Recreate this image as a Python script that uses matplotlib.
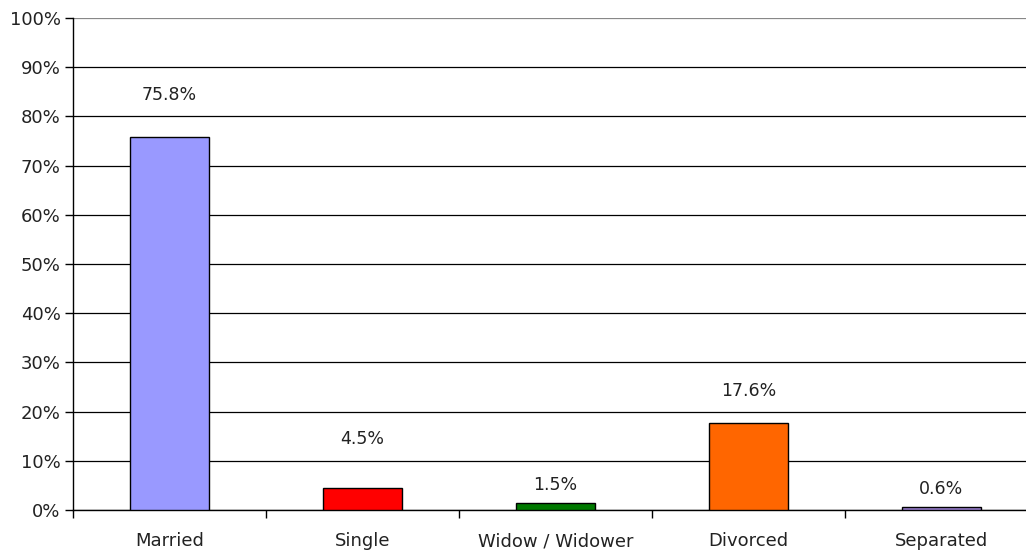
import matplotlib.pyplot as plt
from matplotlib.ticker import FixedLocator, PercentFormatter

categories = ["Married", "Single", "Widow / Widower", "Divorced", "Separated"]
shares = [75.8, 4.5, 1.5, 17.6, 0.6]
bar_colors = ["#9999FF", "#FF0000", "#007A00", "#FF6600", "#9B80D2"]
# label offsets above each bar, in points
label_offsets = [30, 35, 13, 23, 13]

plt.rcParams["font.family"] = ["DejaVu Sans"]

fig = plt.figure(figsize=(10.26, 5.53), dpi=100)
ax = fig.add_axes([73 / 1026, 43 / 553, 965 / 1026, 492 / 553])

x = list(range(len(categories)))
ax.bar(x, shares, width=0.405, color=bar_colors, edgecolor="black",
       linewidth=1.0, zorder=3)

for xi, v, off in zip(x, shares, label_offsets):
    ax.annotate(f"{v:.1f}%", (xi, v), xytext=(0, off),
                textcoords="offset points", ha="center", va="center",
                fontsize=12.5, color="#222222")

ax.set_xlim(-0.5, len(categories) - 0.5)
ax.set_ylim(0, 100)

ax.set_yticks(range(0, 101, 10))
ax.yaxis.set_major_formatter(PercentFormatter(decimals=0))
ax.yaxis.grid(True, color="black", linewidth=0.9, zorder=0)
ax.set_axisbelow(True)
ax.get_ygridlines()[-1].set_color("#888888")

ax.set_xticks(x)
ax.set_xticklabels(categories)
ax.xaxis.set_minor_locator(FixedLocator([i - 0.5 for i in range(len(categories) + 1)]))
ax.tick_params(axis="x", which="major", length=0, pad=16, labelsize=13,
               labelcolor="#222222")
ax.tick_params(axis="x", which="minor", length=6, width=1, direction="out")
ax.tick_params(axis="y", length=6, width=1, direction="out", pad=3,
               labelsize=13, labelcolor="#222222")

for side in ("top", "right"):
    ax.spines[side].set_visible(False)
ax.spines["left"].set_linewidth(1.0)
ax.spines["bottom"].set_linewidth(1.0)

fig.savefig("out.png", dpi=100)
plt.close(fig)
